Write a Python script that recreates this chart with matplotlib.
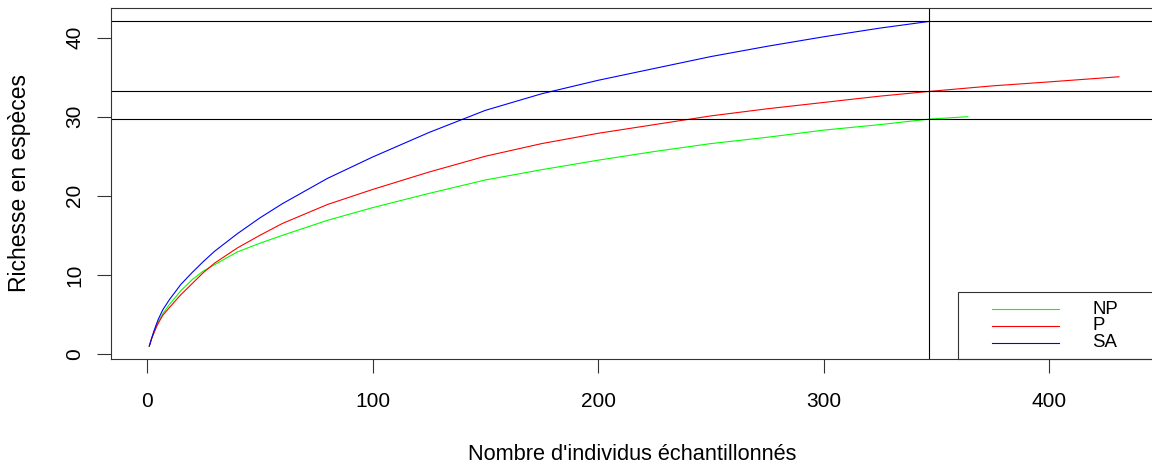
import matplotlib
matplotlib.use("Agg")
import matplotlib.pyplot as plt
from matplotlib.lines import Line2D
from matplotlib.patches import Rectangle

# ---- data ----
sa_x = [1, 2, 3, 4, 5, 7, 10, 15, 20, 25, 30, 40, 50, 60, 80, 100, 125, 150, 175, 200, 225, 250, 275, 300, 325, 347]
sa_y = [1.0, 1.95, 2.85, 3.65, 4.4, 5.6, 6.9, 8.8, 10.3, 11.7, 13.0, 15.2, 17.2, 19.0, 22.2, 24.9, 28.0, 30.8, 32.9, 34.6, 36.1, 37.6, 38.9, 40.1, 41.2, 42.05]

p_x = [1, 2, 3, 4, 5, 7, 10, 15, 20, 25, 30, 40, 50, 60, 80, 100, 125, 150, 175, 200, 225, 250, 275, 300, 325, 347, 375, 400, 431]
p_y = [1.0, 1.9, 2.6, 3.3, 3.9, 4.9, 5.9, 7.5, 8.9, 10.3, 11.5, 13.4, 15.0, 16.5, 18.9, 20.8, 23.0, 25.0, 26.6, 27.9, 29.0, 30.1, 31.0, 31.8, 32.6, 33.2, 33.9, 34.4, 35.05]

np_x = [1, 2, 3, 4, 5, 7, 10, 15, 20, 25, 30, 40, 50, 60, 80, 100, 125, 150, 175, 200, 225, 250, 275, 300, 325, 347, 364]
np_y = [1.0, 1.95, 2.75, 3.45, 4.1, 5.1, 6.3, 8.0, 9.4, 10.5, 11.3, 12.9, 14.0, 15.0, 16.9, 18.5, 20.3, 22.0, 23.3, 24.5, 25.6, 26.6, 27.4, 28.3, 29.0, 29.7, 30.0]

hlines = [42.05, 33.2, 29.7]
vline = 347

x_ticks = [0, 100, 200, 300, 400]
y_ticks = [0, 10, 20, 30, 40]
series_labels = ["NP", "P", "SA"]
series_colors = ["#00ff00", "#ff0000", "#0000ff"]

xlabel = "Nombre d'individus échantillonnés"
ylabel = "Richesse en espèces"

# ---- figure ----
W, H = 1152, 470
fig = plt.figure(figsize=(W / 100, H / 100), dpi=100)
plt.rcParams['font.family'] = ['Liberation Sans', 'DejaVu Sans']

def fx(px):
    return px / W

def fy(py):
    return 1 - py / H

ax_left, ax_right, ax_top, ax_bottom = 110.5, 1157.7, 8.4, 359.1
ax = fig.add_axes([fx(ax_left), fy(ax_bottom), fx(ax_right - ax_left), (ax_bottom - ax_top) / H])

lw = 0.8
ax.plot(np_x, np_y, color=series_colors[0], lw=lw)
ax.plot(p_x, p_y, color=series_colors[1], lw=lw)
ax.plot(sa_x, sa_y, color=series_colors[2], lw=lw)

for h in hlines:
    ax.axhline(h, color="black", lw=lw)
ax.axvline(vline, color="black", lw=lw)

allx = sa_x + p_x + np_x
ally = sa_y + p_y + np_y
rx = max(allx) - min(allx)
ry = max(ally) - min(ally)
ax.set_xlim(min(allx) - 0.04 * rx, max(allx) + 0.04 * rx)
ax.set_ylim(min(ally) - 0.04 * ry, max(ally) + 0.04 * ry)

ax.set_xticks(x_ticks)
ax.set_yticks(y_ticks)
ax.set_xticklabels([str(t) for t in x_ticks])
ax.set_yticklabels([str(t) for t in y_ticks], rotation=90, va="center")
ax.tick_params(axis="both", direction="out", length=10, width=lw, color="#333333",
               labelsize=15, labelcolor="black")
ax.tick_params(axis="x", pad=14)
ax.tick_params(axis="y", pad=9)
for s in ax.spines.values():
    s.set_linewidth(lw)
    s.set_color("#333333")

fig.text(fx(632.5), fy(460), xlabel, ha="center", va="baseline", fontsize=15.7)
fig.text(fx(20), fy(182.5), ylabel, ha="center", va="center", rotation=90, fontsize=16.5)

# ---- legend (bottom-right, R style) ----
leg_left, leg_top = 958, 292
fig.patches.append(Rectangle((fx(leg_left), fy(ax_bottom)), fx(W + 10 - leg_left),
                             (ax_bottom - leg_top) / H, transform=fig.transFigure,
                             fill=False, edgecolor="#333333", lw=lw, zorder=5))
leg_y = [309, 326, 342.7]
for lab, col, yy in zip(series_labels, series_colors, leg_y):
    fig.lines.append(Line2D([fx(992), fx(1059)], [fy(yy), fy(yy)], transform=fig.transFigure,
                            color=col, lw=lw, zorder=6))
    fig.text(fx(1092), fy(yy), lab, ha="left", va="center", fontsize=13.4, zorder=6)

fig.savefig("out.png", dpi=100)
